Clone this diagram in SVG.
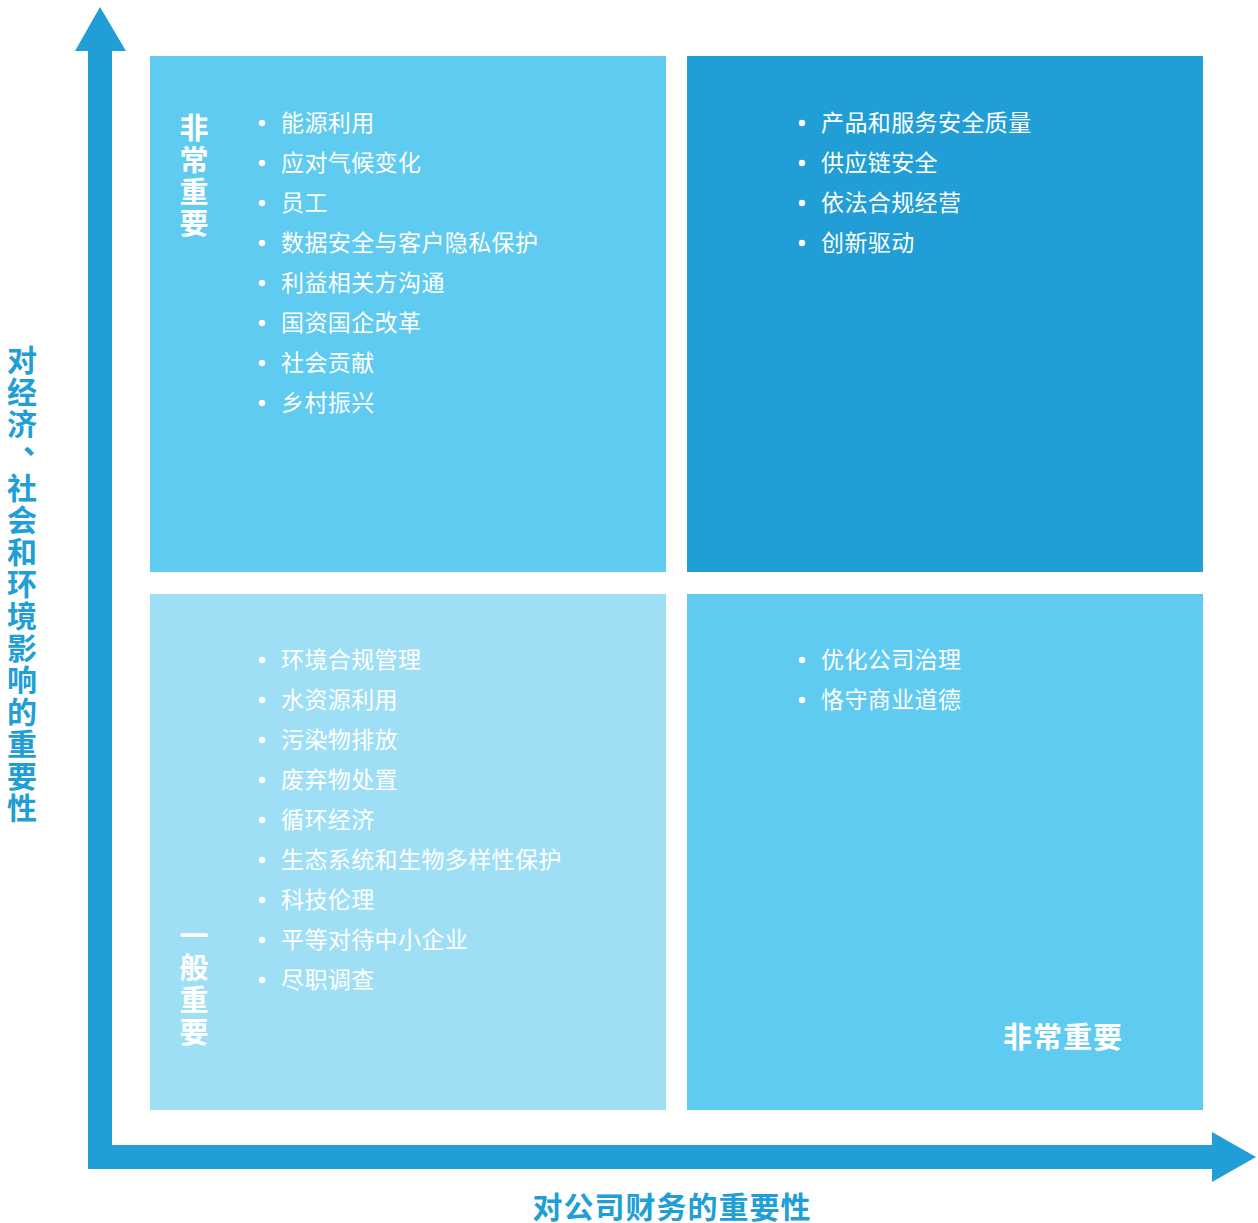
<svg xmlns="http://www.w3.org/2000/svg" width="1258" height="1223" viewBox="0 0 1258 1223">
<style>
.item{font-family:"Noto Sans CJK SC","Noto Sans",sans-serif;font-size:23px;fill:#fff;letter-spacing:0.4px}
.bul{fill:#fff}
.vlab{font-family:"Noto Sans CJK SC","Noto Sans",sans-serif;font-size:29px;font-weight:bold;fill:#fff;text-anchor:middle}
.axl{font-family:"Noto Sans CJK SC","Noto Sans",sans-serif;font-size:30px;font-weight:bold;fill:#209ed5;text-anchor:middle}
</style>
<rect width="1258" height="1223" fill="#fff"/>
<g id="axes">
<path d="M88 1169 L88 51 L75 51 L100 7 L126 51 L112 51 L112 1145 L1212 1145 L1212 1132 L1256 1157 L1212 1182 L1212 1169 Z" fill="#209ed5"/>
</g>
<g id="q-top-left">
<rect x="150" y="56" width="516" height="516" fill="#60cbf1"/>
<text class="vlab"><tspan x="194" y="139">非</tspan><tspan x="194" y="171">常</tspan><tspan x="194" y="203">重</tspan><tspan x="194" y="234">要</tspan></text>
<g class="bul"><circle cx="262" cy="123" r="3.2"/><circle cx="262" cy="163" r="3.2"/><circle cx="262" cy="203" r="3.2"/><circle cx="262" cy="243" r="3.2"/><circle cx="262" cy="283" r="3.2"/><circle cx="262" cy="323" r="3.2"/><circle cx="262" cy="363" r="3.2"/><circle cx="262" cy="403" r="3.2"/></g>
<text class="item"><tspan x="281" y="130.7">能源利用</tspan><tspan x="281" y="170.7">应对气候变化</tspan><tspan x="281" y="210.7">员工</tspan><tspan x="281" y="250.7">数据安全与客户隐私保护</tspan><tspan x="281" y="290.7">利益相关方沟通</tspan><tspan x="281" y="330.7">国资国企改革</tspan><tspan x="281" y="370.7">社会贡献</tspan><tspan x="281" y="410.7">乡村振兴</tspan></text>
</g>
<g id="q-top-right">
<rect x="687" y="56" width="516" height="516" fill="#209ed5"/>
<g class="bul"><circle cx="802" cy="123" r="3.2"/><circle cx="802" cy="163" r="3.2"/><circle cx="802" cy="203" r="3.2"/><circle cx="802" cy="243" r="3.2"/></g>
<text class="item"><tspan x="821" y="130.7">产品和服务安全质量</tspan><tspan x="821" y="170.7">供应链安全</tspan><tspan x="821" y="210.7">依法合规经营</tspan><tspan x="821" y="250.7">创新驱动</tspan></text>
</g>
<g id="q-bottom-left">
<rect x="150" y="594" width="516" height="516" fill="#9fdff6"/>
<text class="vlab"><tspan x="194" y="947">一</tspan><tspan x="194" y="979">般</tspan><tspan x="194" y="1011">重</tspan><tspan x="194" y="1043">要</tspan></text>
<g class="bul"><circle cx="262" cy="660" r="3.2"/><circle cx="262" cy="700" r="3.2"/><circle cx="262" cy="740" r="3.2"/><circle cx="262" cy="780" r="3.2"/><circle cx="262" cy="820" r="3.2"/><circle cx="262" cy="860" r="3.2"/><circle cx="262" cy="900" r="3.2"/><circle cx="262" cy="940" r="3.2"/><circle cx="262" cy="980" r="3.2"/></g>
<text class="item"><tspan x="281" y="667.7">环境合规管理</tspan><tspan x="281" y="707.7">水资源利用</tspan><tspan x="281" y="747.7">污染物排放</tspan><tspan x="281" y="787.7">废弃物处置</tspan><tspan x="281" y="827.7">循环经济</tspan><tspan x="281" y="867.7">生态系统和生物多样性保护</tspan><tspan x="281" y="907.7">科技伦理</tspan><tspan x="281" y="947.7">平等对待中小企业</tspan><tspan x="281" y="987.7">尽职调查</tspan></text>
</g>
<g id="q-bottom-right">
<rect x="687" y="594" width="516" height="516" fill="#60cbf1"/>
<g class="bul"><circle cx="802" cy="660" r="3.2"/><circle cx="802" cy="700" r="3.2"/></g>
<text class="item"><tspan x="821" y="667.7">优化公司治理</tspan><tspan x="821" y="707.7">恪守商业道德</tspan></text>
<text class="vlab" x="1063" y="1048" style="letter-spacing:1px">非常重要</text>
</g>
<g id="axis-labels">
<text class="axl"><tspan x="22" y="371">对</tspan><tspan x="22" y="403">经</tspan><tspan x="22" y="435">济</tspan><tspan x="38" y="453">、</tspan><tspan x="22" y="499">社</tspan><tspan x="22" y="531">会</tspan><tspan x="22" y="563">和</tspan><tspan x="22" y="595">环</tspan><tspan x="22" y="627">境</tspan><tspan x="22" y="659">影</tspan><tspan x="22" y="691">响</tspan><tspan x="22" y="723">的</tspan><tspan x="22" y="755">重</tspan><tspan x="22" y="787">要</tspan><tspan x="22" y="819">性</tspan></text>
<text class="axl" x="672" y="1218" style="letter-spacing:1px">对公司财务的重要性</text>
</g>
</svg>
